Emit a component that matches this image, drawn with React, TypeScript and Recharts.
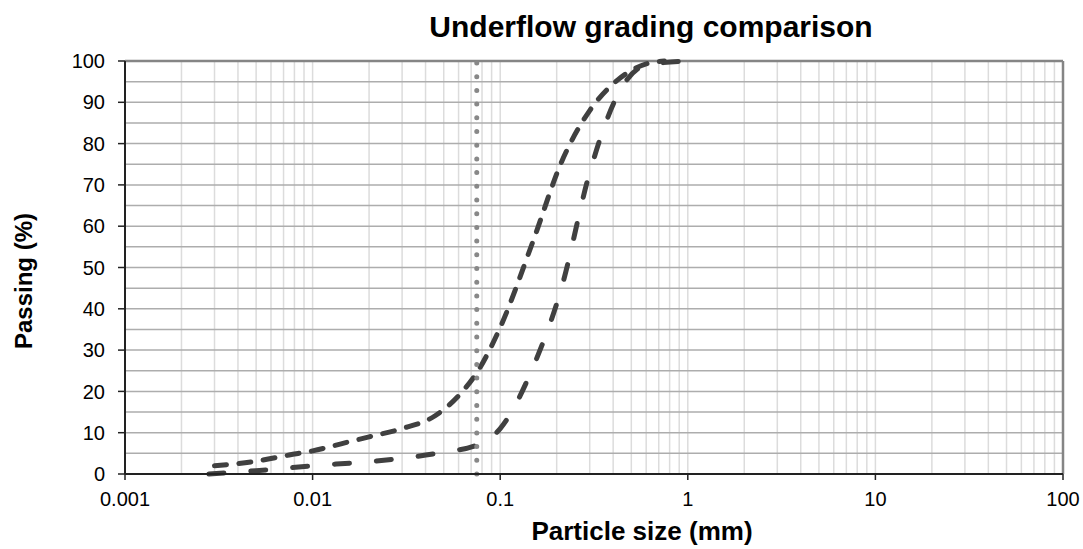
import { Line, LineChart, ReferenceLine, XAxis, YAxis } from "recharts";

const FONT = "'Liberation Sans', Arial, sans-serif";

// particle size (mm) and % passing
const sizeA = [0.003, 0.005, 0.0075, 0.01, 0.015, 0.02, 0.03, 0.045, 0.063, 0.075, 0.1, 0.15, 0.212, 0.3, 0.425, 0.6, 0.75];
const passA = [2, 3.1, 4.6, 5.6, 7.6, 9.0, 11.0, 14.1, 20, 24.5, 35.5, 56.5, 75.5, 88, 95.5, 99.3, 100];

const sizeB = [0.0028, 0.005, 0.01, 0.02, 0.035, 0.05, 0.075, 0.1, 0.15, 0.212, 0.3, 0.425, 0.6, 1];
const passB = [0, 0.8, 2, 3, 4.2, 5.3, 7, 11, 26, 45, 73, 92, 99, 100];

const limitSize = 0.075;

const xTicks = [0.001, 0.01, 0.1, 1, 10, 100];
const yTicks = [0, 10, 20, 30, 40, 50, 60, 70, 80, 90, 100];
const yGrid = [5, 10, 15, 20, 25, 30, 35, 40, 45, 50, 55, 60, 65, 70, 75, 80, 85, 90, 95];
const decades = [0.001, 0.01, 0.1, 1, 10];
const multipliers = [1, 2, 3, 4, 5, 6, 7, 8, 9];

export default function App() {
  const dataA = sizeA.map((s, i) => ({ size: s, pass: passA[i] }));
  const dataB = sizeB.map((s, i) => ({ size: s, pass: passB[i] }));
  const xGrid = decades.flatMap((d) => multipliers.map((m) => Number((d * m).toPrecision(3)))).filter((v) => v > 0.001);

  return (
    <div style={{ position: "absolute", left: 0, top: 0, width: 1083, height: 549, background: "#fff" }}>
      <LineChart width={1083} height={549} margin={{ top: 61, right: 20, bottom: 45, left: 65 }}>
        {xGrid.map((v) => (
          <ReferenceLine key={"v" + v} x={v} stroke="#dcdcdc" strokeWidth={1.5} />
        ))}
        {yGrid.map((v) => (
          <ReferenceLine key={"h" + v} y={v} stroke="#adadad" strokeWidth={1.5} />
        ))}
        <ReferenceLine y={100} stroke="#858585" strokeWidth={2.5} />
        <ReferenceLine x={100} stroke="#858585" strokeWidth={2.5} />
        <XAxis
          type="number"
          dataKey="size"
          scale="log"
          domain={[0.001, 100]}
          ticks={xTicks}
          allowDataOverflow
          height={30}
          tickSize={6}
          tickMargin={12}
          tickFormatter={(v) => String(v)}
          tick={{ fill: "#000", fontSize: 20, fontFamily: FONT }}
          axisLine={{ stroke: "#222", strokeWidth: 2 }}
          tickLine={{ stroke: "#222", strokeWidth: 1.5 }}
        />
        <YAxis
          type="number"
          domain={[0, 100]}
          ticks={yTicks}
          width={60}
          tickSize={7}
          tickMargin={13}
          tick={{ fill: "#000", fontSize: 20, fontFamily: FONT }}
          axisLine={{ stroke: "#222", strokeWidth: 2 }}
          tickLine={{ stroke: "#222", strokeWidth: 1.5 }}
        />
        <Line
          data={dataA}
          dataKey="pass"
          type="monotone"
          stroke="#404040"
          strokeWidth={5}
          strokeDasharray="12 12.5"
          strokeLinecap="round"
          dot={false}
          activeDot={false}
          isAnimationActive={false}
        />
        <Line
          data={dataB}
          dataKey="pass"
          type="monotone"
          stroke="#404040"
          strokeWidth={5}
          strokeDasharray="15 27"
          strokeLinecap="round"
          dot={false}
          activeDot={false}
          isAnimationActive={false}
        />
        <ReferenceLine x={limitSize} stroke="#888" strokeWidth={5} strokeDasharray="0 13.7" strokeLinecap="round" />
      </LineChart>
      <svg width={1083} height={549} style={{ position: "absolute", left: 0, top: 0, pointerEvents: "none" }}>
        <text x={651} y={37} textAnchor="middle" fontFamily={FONT} fontWeight="bold" fontSize={30} fill="#000">
          Underflow grading comparison
        </text>
        <text x={642} y={540} textAnchor="middle" fontFamily={FONT} fontWeight="bold" fontSize={26} fill="#000">
          Particle size (mm)
        </text>
        <text
          x={32}
          y={281}
          transform="rotate(-90 32 281)"
          textAnchor="middle"
          fontFamily={FONT}
          fontWeight="bold"
          fontSize={24}
          fill="#000"
        >
          Passing (%)
        </text>
      </svg>
    </div>
  );
}
